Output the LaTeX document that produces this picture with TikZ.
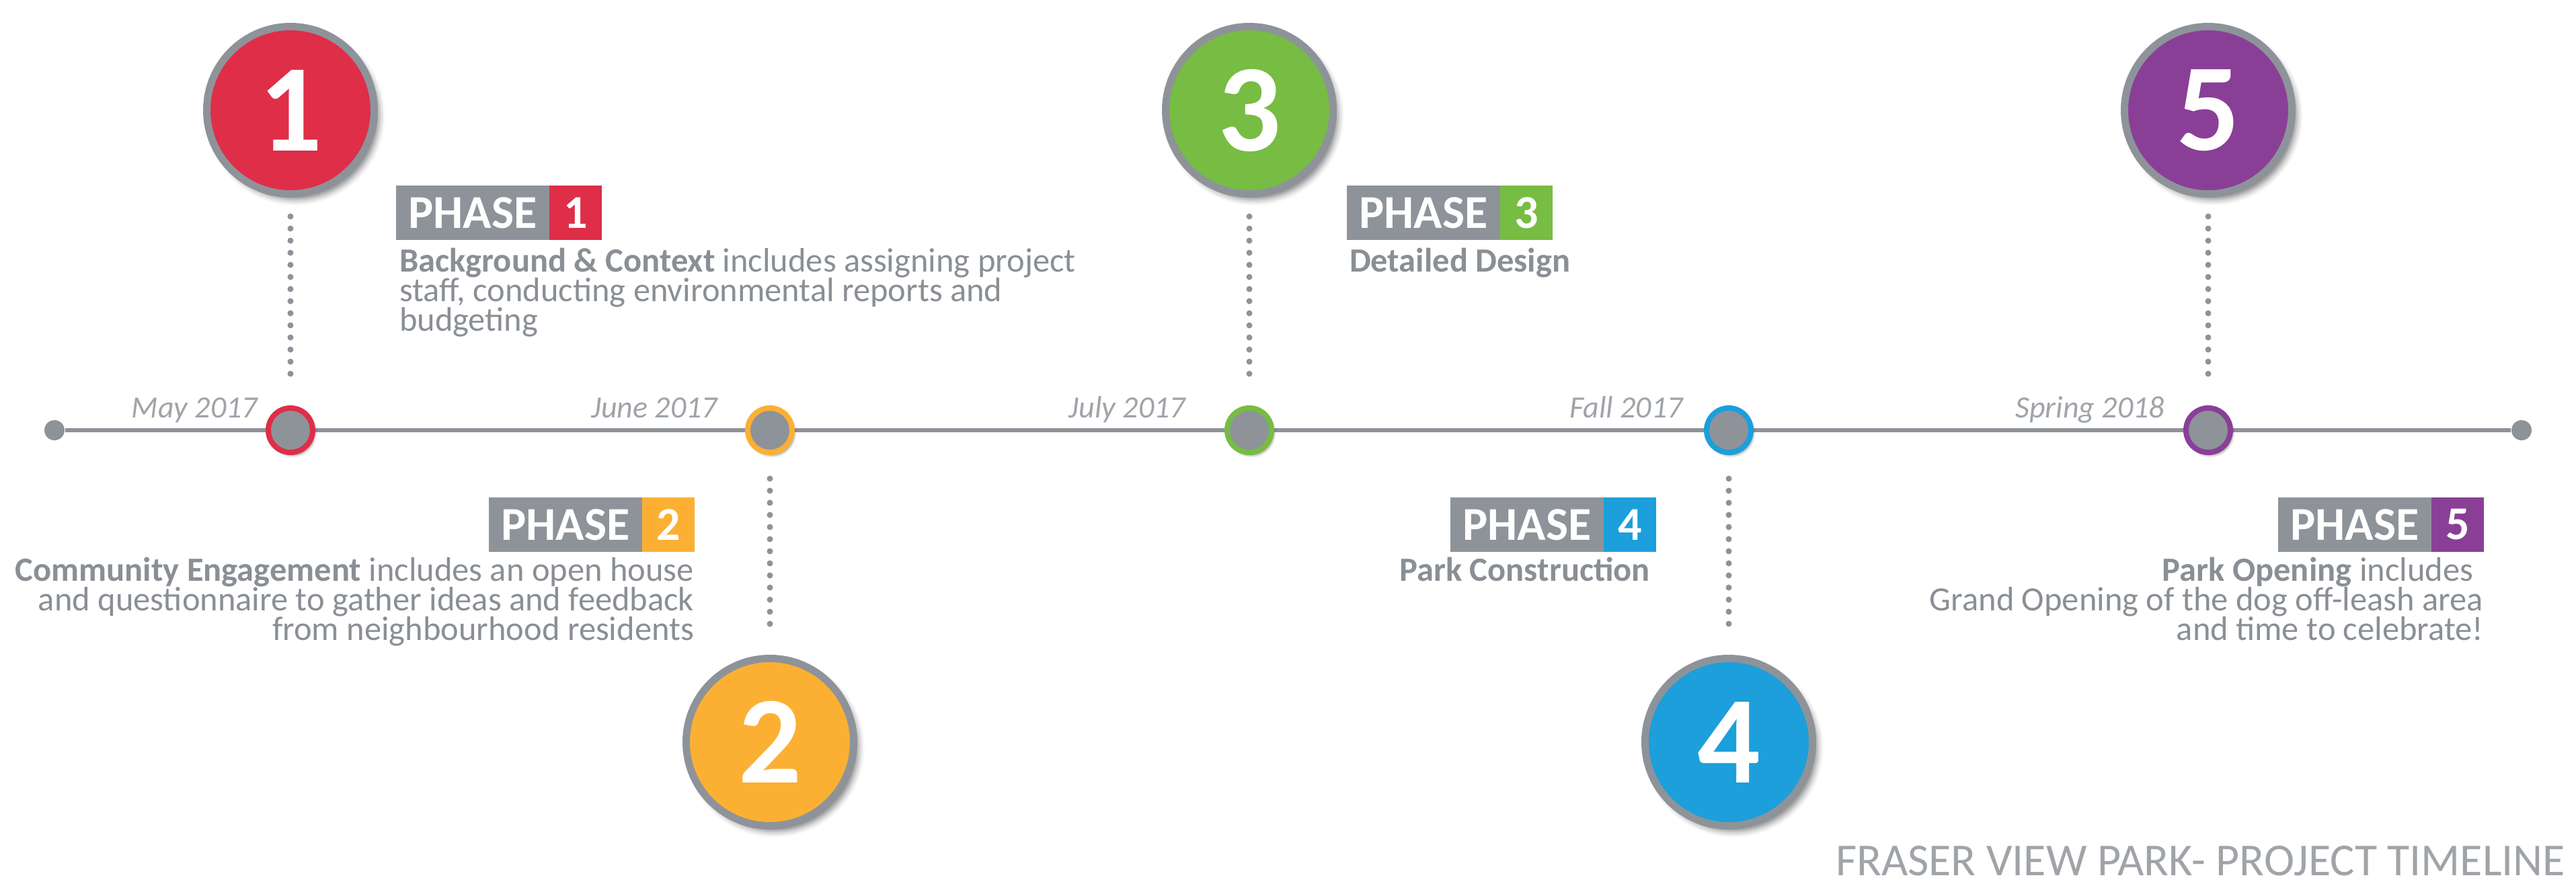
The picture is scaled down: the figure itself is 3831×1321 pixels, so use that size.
\documentclass[tikz,border=0pt]{standalone}
\usepackage{fontspec}
\setmainfont{Carlito}
\usetikzlibrary{shadows.blur}
\definecolor{tgray}{HTML}{8E9399}
\definecolor{txtgray}{HTML}{8A8F95}
\definecolor{lgray}{HTML}{A0A4A8}
\definecolor{c1}{HTML}{DE2E48}
\definecolor{c2}{HTML}{FBB034}
\definecolor{c3}{HTML}{77BC43}
\definecolor{c4}{HTML}{1C9FDB}
\definecolor{c5}{HTML}{8A3F97}
\newcommand\mytightlines{\lineskiplimit=-20pt\relax\lineskip=0pt\relax}
\tikzset{
 bigc/.style={circle, draw=tgray, line width=2.2pt, minimum size=49.8pt, inner sep=0pt, text=white,
   font=\fontsize{37}{37}\selectfont\bfseries,
   blur shadow={shadow xshift=1.4pt, shadow yshift=-1.6pt, shadow blur radius=1.8pt, shadow opacity=50}},
 smallc/.style={circle, fill=tgray, line width=1.6pt, minimum size=13.2pt, inner sep=0pt,
   blur shadow={shadow xshift=0.6pt, shadow yshift=-0.8pt, shadow blur radius=0.8pt, shadow opacity=50}},
 enddot/.style={circle, fill=tgray, minimum size=6pt, inner sep=0pt},
 phasebox/.style={fill=tgray, text=white, font=\fontsize{14}{14}\selectfont\bfseries,
   minimum height=16.2pt, minimum width=45.6pt, inner sep=0pt, outer sep=0pt},
 numbox/.style={phasebox, minimum width=15.6pt},
 desc/.style={text=txtgray, font=\fontsize{10.1}{8.8}\selectfont\mytightlines, inner sep=0pt},
 datel/.style={text=lgray, font=\fontsize{9.2}{9.2}\selectfont\itshape, inner sep=0pt, anchor=base east},
 dotline/.style={draw=tgray, line width=1.8pt, line cap=round, dash pattern=on 0pt off 3.6pt},
 tline/.style={draw=tgray, line width=1.2pt}
}
\begin{document}
\begin{tikzpicture}[x=0.2pt, y=-0.2pt]
\useasboundingbox (0,0) rectangle (3831,1321);
% timeline
\node[enddot] (e0) at (81,640) {};
\node[enddot] (e6) at (3750,640) {};
\draw[tline] (e0) -- (e6);
\node[smallc, draw=c1] (s1) at (432,640) {};
\node[smallc, draw=c2] (s2) at (1145,640) {};
\node[smallc, draw=c3] (s3) at (1858,640) {};
\node[smallc, draw=c4] (s4) at (2571,640) {};
\node[smallc, draw=c5] (s5) at (3284,640) {};
% big circles
\node[bigc, fill=c1] (b1) at (432,164) {1};
\node[bigc, fill=c2] (b2) at (1145,1104) {2};
\node[bigc, fill=c3] (b3) at (1858,164) {3};
\node[bigc, fill=c4] (b4) at (2571,1104) {4};
\node[bigc, fill=c5] (b5) at (3284,164) {5};
% dotted connectors
\draw[dotline, shorten <=5.6pt, shorten >=6.6pt] (b1) -- (s1);
\draw[dotline, shorten <=5.6pt, shorten >=6.6pt] (b3) -- (s3);
\draw[dotline, shorten <=5.6pt, shorten >=6.6pt] (b5) -- (s5);
\draw[dotline, shorten <=7pt, shorten >=6.8pt] (s2) -- (b2);
\draw[dotline, shorten <=7pt, shorten >=6.8pt] (s4) -- (b4);
% dates
\node[datel] (d1) at (384,621) {May 2017};
\node[datel] (d2) at (1068,621) {June 2017};
\node[datel] (d3) at (1764,621) {July 2017};
\node[datel] (d4) at (2504,621) {Fall 2017};
\node[datel] (d5) at (3220,621) {Spring 2018};
% phase boxes
\node[phasebox, anchor=north west] (p1) at (589,276) {PHASE};
\node[numbox, fill=c1, anchor=west] (p1n) at (p1.east) {1};
\node[phasebox, anchor=north west] (p3) at (2003,276) {PHASE};
\node[numbox, fill=c3, anchor=west] (p3n) at (p3.east) {3};
\node[numbox, fill=c2, anchor=north east] (p2n) at (1033,740) {2};
\node[phasebox, anchor=east] (p2) at (p2n.west) {PHASE};
\node[numbox, fill=c4, anchor=north east] (p4n) at (2463,740) {4};
\node[phasebox, anchor=east] (p4) at (p4n.west) {PHASE};
\node[numbox, fill=c5, anchor=north east] (p5n) at (3694,740) {5};
\node[phasebox, anchor=east] (p5) at (p5n.west) {PHASE};
% descriptions
\node[desc, anchor=north west, align=left] (t1) at (593,368)
 {\textbf{Background \& Context} includes assigning project\\staff, conducting environmental reports and\\budgeting};
\node[desc, anchor=north east, align=right] (t2) at (1033,828)
 {\textbf{Community Engagement} includes an open house\\and questionnaire to gather ideas and feedback\\from neighbourhood residents};
\node[desc, anchor=north west, align=left] (t3) at (2006,368) {\textbf{Detailed Design}};
\node[desc, anchor=north east, align=right] (t4) at (2455,828) {\textbf{Park Construction}};
\node[desc, anchor=north east, align=right] (t5) at (3694,828)
 {\textbf{Park Opening} includes\rule{3pt}{0pt}\\Grand Opening of the dog off-leash area\\and time to celebrate!};
% title
\node[anchor=base east, inner sep=0pt, text=lgray, font=\fontsize{13.6}{13.6}\selectfont] (title) at (3816,1302)
 {FRASER VIEW PARK- PROJECT TIMELINE};
\end{tikzpicture}
\end{document}
